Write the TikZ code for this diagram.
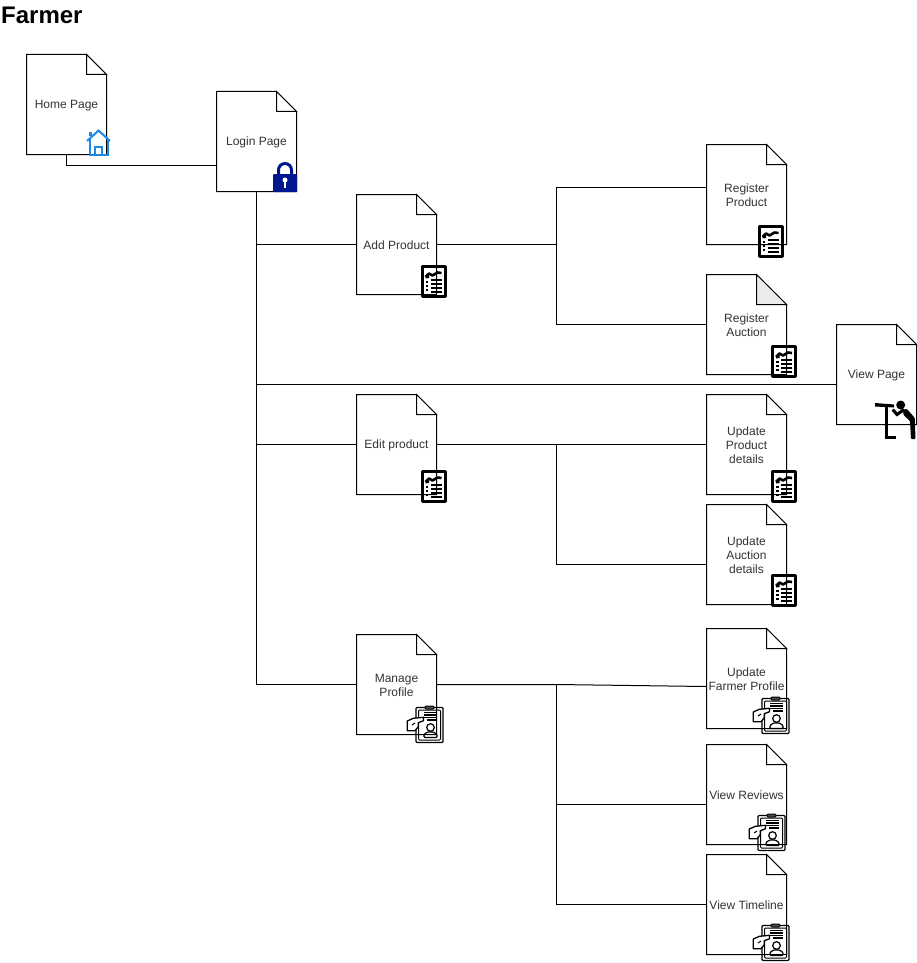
\documentclass[tikz,border=0pt]{standalone}
\usepackage{fontspec}
\setmainfont{Liberation Sans}
\definecolor{inktext}{HTML}{333333}
\definecolor{homeblue}{HTML}{1E88E5}
\definecolor{locknavy}{HTML}{00188F}
\definecolor{foldgrey}{HTML}{EBEBEB}
\tikzset{
  pagebox/.style={inner sep=0pt,minimum width=80pt,minimum height=100pt,text=inktext,font=\fontsize{12}{14}\selectfont},
  pageline/.style={draw=black,line width=1pt,line join=miter},
  wire/.style={draw=black,line width=1pt},
  titletext/.style={inner sep=0pt,anchor=west,font=\bfseries\fontsize{24}{26}\selectfont},
}
% [fold fill]{fold size}{name}{x}{y}{text}
\newcommand{\docpage}[6][white]{%
  \node[pagebox] (#3) at (#4+40.5,#5+50.5) {\parbox{80pt}{\centering\vspace{2pt}#6}};
  \begin{scope}[shift={(#4+0.5,#5+0.5)}]
    \draw[pageline] (0,0) -- (80-#2,0) -- (80,#2) -- (80,100) -- (0,100) -- cycle;
    \filldraw[pageline,fill=#1] (80-#2,0) -- (80-#2,#2) -- (80,#2) -- cycle;
  \end{scope}}
\newcommand{\reporticon}[2]{%
  \begin{scope}[shift={(#1,#2)}]
    \draw[black,line width=3pt,line join=round] (1.5,1.5) rectangle (24.5,31.5);
    \draw[black,line width=2.6pt,line join=round] (5,12) -- (8.5,8.5) -- (12,10.5) -- (17,7.5) -- (21,8);
    \fill[black] (5,11) -- (8.5,9) -- (8.5,13) -- (5,13.5) -- cycle;
    \draw[black,line width=2pt] (5,17) -- (7.5,17) (10,15) -- (21,15)
       (10,19) -- (21,19) (5,21) -- (7.5,21)
       (10,23) -- (21,23) (5,25) -- (7.5,25)
       (10,27) -- (21,27);
  \end{scope}}
\newcommand{\profileicon}[2]{%
  \begin{scope}[shift={(#1,#2)},line width=1pt]
    \draw[black,line width=1.2pt,rounded corners=1pt] (10,1.5) rectangle (37,36.5);
    \draw[black,rounded corners=1pt] (12.5,4) rectangle (34.5,34);
    \draw[black,fill=black!70,rounded corners=1pt] (19,0) rectangle (28,3);
    \draw[black,line width=1.1pt] (18,6.5) -- (31,6.5) (18,9) -- (31,9) (18,11.5) -- (31,11.5) (21,14) -- (31,14);
    \draw[black,line width=1.2pt] (24.5,21.5) circle (3.8);
    \draw[black,line width=1.2pt,rounded corners=1pt] (18,31.5) -- (18,28.5) -- (21.5,26) -- (27.5,26) -- (31,28.5) -- (31,31.5) -- cycle;
    \draw[black,fill=white,line width=1.3pt,line join=round] (1.3,15) -- (7.3,12.3) -- (17.5,11.3) -- (17.5,14.7) -- (12.3,16.7) -- (12.3,20.7) -- (9,24.7) -- (1.3,24.7) -- cycle;
    \draw[black] (6,19) -- (9,17);
  \end{scope}}
\begin{document}
\begin{tikzpicture}[x=1pt,y=-1pt]
  \useasboundingbox[fill=white] (0,0) rectangle (917,963);
  \node[titletext] (title) at (1,15) {Farmer};

  \docpage{20}{home}{26}{54}{Home Page}
  \docpage{20}{login}{216}{91}{Login Page}
  \docpage{20}{add}{356}{194}{Add Product}
  \docpage{20}{regprod}{706}{144}{Register\\Product}
  \docpage[foldgrey]{30}{regauc}{706}{274}{Register\\Auction}
  \docpage{20}{view}{836}{324}{View Page}
  \docpage{20}{edit}{356}{394}{Edit product}
  \docpage{20}{updprod}{706}{394}{Update\\Product\\details}
  \docpage{20}{updauc}{706}{504}{Update\\Auction\\details}
  \docpage{20}{manage}{356}{634}{Manage\\Profile}
  \docpage{20}{updfarm}{706}{628}{Update\\Farmer Profile}
  \docpage{20}{reviews}{706}{744}{View Reviews}
  \docpage{20}{timeline}{706}{854}{View Timeline}

  \coordinate (busA) at (556.5,244.5);
  \coordinate (busE) at (556.5,444.5);
  \coordinate (busM) at (556.5,684.5);

  \draw[wire] (home.south) |- ([yshift=-24pt]login.west);
  \draw[wire] (login.south) |- (manage.west);
  \draw[wire] (login.south |- add.west) -- (add.west);
  \draw[wire] (login.south |- edit.west) -- (edit.west);
  \draw[wire] (login.south |- 0,384.5) -- ([yshift=-10pt]view.west);

  \draw[wire] (add.east) -- (busA);
  \draw[wire] ([yshift=7pt]regprod.west) -| (busA);
  \draw[wire] (regauc.west) -| (busA);

  \draw[wire] (edit.east) -- (updprod.west);
  \draw[wire] (busE) |- ([yshift=-10pt]updauc.west);

  \draw[wire] (manage.east) -- (busM) -- ([yshift=-8pt]updfarm.west);
  \draw[wire] (busM) |- (timeline.west);
  \draw[wire] (busM |- 0,804.5) -- ([yshift=-10pt]reviews.west);

  % home icon
  \begin{scope}[shift={(86,128)}]
    \draw[homeblue,line width=2pt,line join=miter] (1,13) -- (12.5,2.5) -- (24,13);
    \draw[homeblue,line width=2pt] (3.5,11) -- (3.5,27) -- (21.5,27) -- (21.5,11);
    \draw[homeblue,line width=2pt] (9,27) -- (9,19) -- (16,19) -- (16,27);
    \fill[homeblue] (3,4) rectangle (6,8);
  \end{scope}

  % lock icon
  \begin{scope}[shift={(273,161)}]
    \draw[locknavy,line width=3pt] (5.5,14) -- (5.5,9) arc[start angle=180,end angle=360,radius=6.5] -- (18.5,14);
    \fill[locknavy,rounded corners=1pt] (0,13) rectangle (24,31);
    \fill[white] (12,19) circle (2.5);
    \fill[white] (11,19) rectangle (13,27);
  \end{scope}

  \reporticon{420.5}{265}
  \reporticon{757.5}{225}
  \reporticon{771}{345}
  \reporticon{420.5}{470}
  \reporticon{771}{470}
  \reporticon{771}{574}

  \profileicon{406}{706}
  \profileicon{752}{697}
  \profileicon{748}{814}
  \profileicon{752}{924}

  % person at a telescope
  \fill[black] (875,403) -- (894,404.5) -- (894,407.5) -- (875,406.5) -- cycle;
  \fill[black] (900.7,405) circle (4.5);
  \draw[black,line width=3pt] (886.5,407) -- (886.5,437.5) -- (896,437.5);
  \draw[black,line width=3pt,line join=miter] (892.7,409.5) -- (897,414.5) -- (904,409.5);
  \fill[black,rounded corners=1pt] (903,409.5) -- (907,409) -- (914.8,418) -- (915.5,439) -- (911,439) -- (910,421) -- (903.5,415) -- cycle;
\end{tikzpicture}
\end{document}
